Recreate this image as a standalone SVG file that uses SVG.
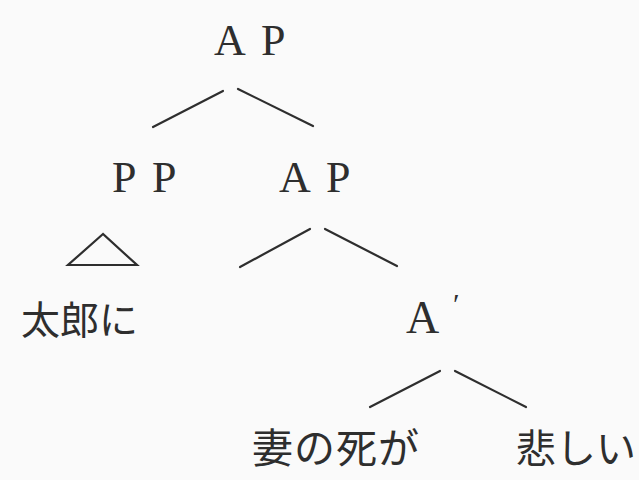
<svg xmlns="http://www.w3.org/2000/svg" width="639" height="480" viewBox="0 0 639 480">
<style>
.lat{font-family:"Liberation Serif","DejaVu Serif",serif;font-size:44px;fill:#2e2e2e}
.jp{font-family:"Noto Sans CJK JP","Noto Sans CJK SC",sans-serif;font-size:39px;fill:#2e2e2e}
.ln{stroke:#2e2e2e;stroke-width:2.2;fill:none;stroke-linecap:round}
</style>
<rect width="639" height="480" fill="#fafafa"/>
<g id="ap-root"><text class="lat" x="214" y="55">A</text><text class="lat" x="261" y="55">P</text></g>
<g id="pp"><text class="lat" x="112" y="192">P</text><text class="lat" x="152" y="192">P</text></g>
<g id="ap-inner"><text class="lat" x="279" y="192">A</text><text class="lat" x="326" y="192">P</text></g>
<g id="abar"><text class="lat" x="406" y="333" style="font-size:46px">A</text><text class="lat" x="453" y="314" style="font-size:30px">′</text></g>
<g id="taro"><text class="jp" x="21" y="334">太郎に</text></g>
<g id="tsuma"><text class="jp" x="252" y="463" style="font-size:41px;letter-spacing:1px">妻の死が</text></g>
<g id="kanashii"><text class="jp" x="516" y="463" style="font-size:40px">悲しい</text></g>
<g id="connectors">
<line class="ln" x1="153" y1="127" x2="223" y2="91"/>
<line class="ln" x1="238" y1="89" x2="313" y2="126"/>
<polygon class="ln" points="103,234 68,265 137,265"/>
<line class="ln" x1="240" y1="267" x2="310" y2="229"/>
<line class="ln" x1="325" y1="229" x2="397" y2="266"/>
<line class="ln" x1="370" y1="407" x2="440" y2="371"/>
<line class="ln" x1="455" y1="371" x2="526" y2="407"/>
</g>
</svg>
